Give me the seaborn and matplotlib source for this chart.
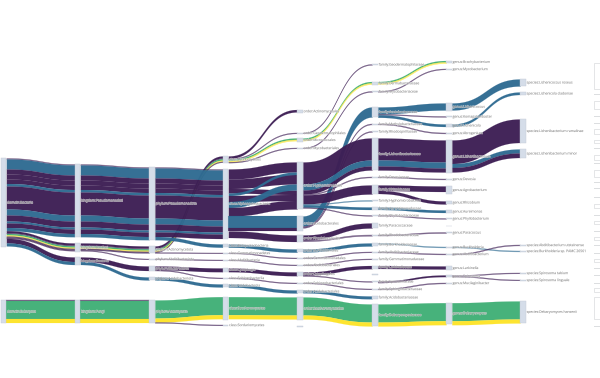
import numpy as np
import pandas as pd
import seaborn as sns
import matplotlib
matplotlib.use("Agg")
import matplotlib.pyplot as plt
import matplotlib.patheffects as pe

# nodes, per taxonomy level
node_key = ["d1", "d2",
            "k1", "k2", "k3", "k4",
            "p1", "p2", "p3", "p4", "p5", "p6",
            "c1", "c2", "c3", "c4", "c5", "c6", "c7", "c8", "c9", "c10",
            "o1", "o2", "o3", "o4", "o5", "o6", "o7", "o8", "o9", "o10", "o11", "o12", "o13", "o14", "o15",
            "f1", "f2", "f3", "f4", "f5", "f6", "f7", "f8", "f9", "f10", "f11", "f12", "f13", "f14", "f15", "f16",
            "f17", "f18", "f19", "f20", "f21", "f22", "f23",
            "g1", "g2", "g3", "g4", "g5", "g6", "g7", "g8", "g9", "g10", "g11", "g12", "g13", "g14", "g15", "g16",
            "g17", "g18", "g19", "g20",
            "s1", "s2", "s3", "s4", "s5", "s6", "s7", "s8", "s9"]
node_col = [0] * 2 + [1] * 4 + [2] * 6 + [3] * 10 + [4] * 15 + [5] * 23 + [6] * 20 + [7] * 9
node_top = [158, 300,
            164, 243, 257, 300,
            167, 246, 258.5, 266, 277, 300,
            156, 169, 244, 252.5, 259.5, 268, 277.5, 284, 296.7, 324.5,
            109.5, 132.5, 138, 147.5, 162, 216, 235, 249, 257.5, 264.5, 272, 282.5, 290, 297, 326,
            64, 81.5, 91, 107, 123.5, 131, 138, 176.5, 185, 200, 207, 215, 223, 234.5, 243, 251.5,
            258.5, 265.5, 274, 281, 288.5, 296, 304,
            60.5, 68.5, 103, 116, 124, 132.5, 140, 178.5, 186, 201, 210, 218, 225.5, 232, 246.5, 253.5,
            266, 275, 282.5, 302.7,
            79, 92, 119, 149, 244.5, 250.5, 272.5, 279.5, 301]
node_height = [89, 23,
               73, 9, 8, 23,
               73, 7, 1.2, 5, 3, 23,
               7, 69.5, 3.2, 1.2, 1.2, 3.5, 1.2, 3, 23, 1.2,
               3.5, 1.2, 4, 1.2, 47, 15, 6.5, 3, 1.2, 1.2, 4, 1.2, 2.8, 23, 0.8,
               1.2, 3.5, 1.2, 10, 1.2, 1.2, 32, 1.2, 9, 1.2, 2.8, 1.2, 5, 1.2, 3, 1.2,
               1.2, 3.2, 0.8, 1.2, 1.2, 2.8, 22,
               2.8, 1.2, 7.5, 1.2, 3, 1.2, 33, 1.2, 8, 3, 3, 1.2, 0.8, 1.2, 1.2, 1.2,
               4, 2.4, 1.2, 21,
               7, 3, 24, 9, 1.2, 1.2, 1.2, 1.2, 21.7]
node_label = ["domain:Bacteria", "domain:Eukaryota",
              "kingdom:Pseudomonadati", "kingdom:Bacillati", "kingdom:Bacteria", "kingdom:Fungi",
              "phylum:Pseudomonadota", "phylum:Actinomycetota", "phylum:Abditibacteriota", "phylum:Bacteroidota",
              "phylum:Acidobacteriota", "phylum:Ascomycota",
              "class:Actinomycetes", "class:Alphaproteobacteria", "class:Betaproteobacteria", "class:Gemmatimonadetes",
              "class:Abditibacteria", "class:Cytophagia", "class:Sphingobacteriia", "class:Acidobacteriia",
              "class:Saccharomycetes", "class:Sordariomycetes",
              "order:Actinomycetales", "order:Geodermatophilales", "order:Micrococcales", "order:Mycobacteriales",
              "order:Hyphomicrobiales", "order:Acetobacterales", "order:Rhodobacterales", "order:Burkholderiales",
              "order:Gemmatimonadales", "order:Abditibacteriales", "order:Cytophagales", "order:Sphingobacteriales",
              "order:Acidobacteriales", "order:Saccharomycetales", "",
              "family:Geodermatophilaceae", "family:Dermabacteraceae", "family:Mycobacteriaceae",
              "family:Acetobacteraceae", "family:Methylobacteriaceae", "family:Rhodospirillaceae",
              "family:Lichenibacteriaceae", "family:Devosiaceae", "family:Rhizobiaceae", "family:Hyphomicrobiaceae",
              "family:Aurantimonadaceae", "family:Phyllobacteriaceae", "family:Paracoccaceae", "family:Rhodobacteraceae",
              "family:Burkholderiaceae", "family:Abditibacteriaceae", "family:Gemmatimonadaceae",
              "family:Larkinellaceae", "", "family:Spirosomaceae", "family:Sphingobacteriaceae",
              "family:Acidobacteriaceae", "family:Debaryomycetaceae",
              "genus:Brachybacterium", "genus:Mycobacterium", "genus:Lichenicoccus", "genus:Komagataeibacter",
              "genus:Lichenicola", "genus:Abrogenium", "genus:Lichenibacterium", "genus:Devosia", "genus:Agrobacterium",
              "genus:Rhizobium", "genus:Aureimonas", "genus:Phyllobacterium", "", "genus:Paracoccus",
              "genus:Burkholderia", "genus:Abditibacterium", "genus:Larkinella", "genus:Spirosoma",
              "genus:Mucilaginibacter", "genus:Debaryomyces",
              "species:Lichenicoccus roseus", "species:Lichenicola cladoniae", "species:Lichenibacterium ramalinae",
              "species:Lichenibacterium minor", "species:Abditibacterium utsteinense",
              "species:Burkholderia sp. PAMC 26561", "species:Spirosoma tabium", "species:Spirosoma linguale",
              "species:Debaryomyces hansenii"]

# strain level, empty boxes cut off by the right edge
strain_top = [41.5, 49.5, 56.5, 63, 94, 101, 116, 123, 129, 140, 148, 155, 163, 170, 182, 188,
              190.5, 197, 204, 215, 221, 231, 237, 245, 253, 259, 268, 275, 283, 288, 297, 326]
strain_height = [0.8, 0.8, 0.8, 26, 0.8, 8, 0.8, 0.8, 5, 3, 0.8, 5, 0.8, 7, 0.8, 0.8,
                 0.8, 0.8, 4, 0.8, 3, 0.8, 3, 0.8, 0.8, 3, 0.8, 0.8, 0.8, 4, 22, 0.8]

col_left = [0.5, 74.5, 149, 222.5, 297, 372, 446, 520, 594]

# domain -> kingdom
src_0 = ["d1"] * 21 + ["d2"] * 3
dst_0 = ["k1"] * 12 + ["k2"] * 7 + ["k3"] * 2 + ["k4"] * 3
wid_0 = [1, 10, 5, 5, 4.5, 2.5, 23, 6, 6, 2, 4.5, 3.2, 2, .8, 1.4, 1.2, .8, .7, .8, 4.5, 3, .8, 18, 4]
tone_0 = list("PBPPPBPBPBPB" + "PPGYPPP" + "PB" + "PGY")

# kingdom -> phylum
src_1 = ["k1"] * 12 + ["k2"] * 7 + ["k3"] * 2 + ["k4"] * 3
dst_1 = ["p1"] * 12 + ["p2"] * 6 + ["p3"] + ["p4", "p5"] + ["p6"] * 3
wid_1 = list(wid_0)
tone_1 = list(tone_0)

# phylum -> class, the Actinomycetota bundle goes behind the trunk
src_2 = ["p2"] * 6 + ["p1"] * 12 + ["p3", "p4", "p4", "p5", "p6", "p6", "p6"]
dst_2 = ["c1"] * 5 + ["c4"] + ["c2"] * 11 + ["c3"] + ["c5", "c6", "c7", "c8", "c9", "c9", "c10"]
wid_2 = [2, .8, 1.4, 1.2, .8, .7, 1, 10, 5, 5, 4.5, 2.5, 23, 6, 6, 2, 4.5, 3.2, .8, 3.7, .8, 3, 18, 4, .8]
tone_2 = list("PPGYPP" + "PBPPPBPBPBPB" + "PPPB" + "GYP")

# class -> order
src_3 = ["c1"] * 5 + ["c2"] * 10 + ["c3", "c4", "c5", "c6", "c7", "c8", "c9", "c9"]
dst_3 = ["o1", "o2", "o3", "o3", "o4"] + ["o5"] * 7 + ["o6"] * 2 + ["o7"] + ["o8", "o9", "o10", "o11", "o12", "o13", "o14", "o14"]
wid_3 = [2.4, .8, 1.4, 1.2, .8, 10, 9.5, 4.5, 2.5, 6, 6, 8.5, 12, 3, 6.5, 3.2, .8, .8, 3.7, .8, 3, 18, 4]
tone_3 = list("PPGYP" + "PPPBPBP" + "BP" + "P" + "BPPPPB" + "GY")
# stack order of the seven stripes where they enter order:Hyphomicrobiales
hyph_rank = [0, 2, 4, 1, 5, 3, 6]

# order -> family, Acetobacterales drawn first so that the trunk covers it
src_4 = ["o6"] * 3 + ["o2", "o3", "o3", "o4"] + ["o5"] * 8 + ["o7", "o7", "o8", "o9", "o10", "o11", "o11", "o12", "o13", "o14", "o14"]
dst_4 = ["f4", "f5", "f6", "f1", "f2", "f2", "f3", "f7", "f7", "f7", "f8", "f9", "f10", "f11", "f12",
         "f13", "f14", "f15", "f16", "f17", "f18", "f20", "f21", "f22", "f23", "f23"]
wid_4 = [10, .9, .9, .8, 1.4, 1.2, .8, 22, 6, 4, .9, 9, .8, 2.5, .8, 5, 1.2, 3, .8, .8, 3.2, .8, .8, 2.8, 18, 4]
tone_4 = list("BPP" + "PGYP" + "PBPPPBBP" + "PPBPPPPPB" + "GY")

# family -> genus
src_5 = ["f2", "f2", "f3", "f4", "f4", "f4", "f5", "f7", "f7", "f7", "f8", "f9", "f9", "f11", "f12", "f14",
         "f15", "f16", "f18", "f20", "f21", "f23", "f23"]
dst_5 = ["g1", "g1", "g2", "g3", "g4", "g5", "g6", "g7", "g7", "g7", "g8", "g9", "g10", "g11", "g12", "g14",
         "g15", "g16", "g17", "g18", "g19", "g20", "g20"]
wid_5 = [1.4, 1.2, .8, 7, .8, 2.5, .9, 22, 6, 4, .9, 5.5, 3, 2.5, .8, 1, .9, .9, 3, 1.6, .9, 18, 4]
tone_5 = list("GYPBPBPPBPPPPBPPBPPPPGY")

# genus -> species
src_6 = ["g3", "g5", "g7", "g7", "g7", "g15", "g16", "g18", "g18", "g20", "g20"]
dst_6 = ["s1", "s2", "s3", "s4", "s4", "s6", "s5", "s7", "s8", "s9", "s9"]
wid_6 = [7, 2.5, 23.5, 4, 4.5, .9, .9, .8, .8, 18, 4]
tone_6 = list("BBPBPBPPPGY")

sns.set_theme(style="white")
plt.rcParams["font.family"] = ["Open Sans", "DejaVu Sans"]

tones = dict(zip("PBGY", sns.color_palette(["#3e1f55", "#2f6b92", "#41b077", "#fde429"])))
node_width = 5.8

nodes = pd.DataFrame({"key": node_key, "col": node_col, "top": node_top,
                      "height": node_height, "label": node_label}).set_index("key")
nodes["x"] = [col_left[c] for c in nodes["col"]]

links = pd.concat([
    pd.DataFrame({"src": s, "dst": d, "width": w, "tone": t})
    for s, d, w, t in [(src_0, dst_0, wid_0, tone_0), (src_1, dst_1, wid_1, tone_1),
                       (src_2, dst_2, wid_2, tone_2), (src_3, dst_3, wid_3, tone_3),
                       (src_4, dst_4, wid_4, tone_4), (src_5, dst_5, wid_5, tone_5),
                       (src_6, dst_6, wid_6, tone_6)]
], ignore_index=True)
links["rank"] = links.index.astype(float)
hyph = links.index[links["dst"] == "o5"]
links.loc[hyph, "rank"] = hyph[0] + np.array(hyph_rank, dtype=float)

# stack the links inside each node
links["y0"] = links["width"].groupby(links["src"]).cumsum() - links["width"] + nodes["top"].reindex(links["src"]).values
by_rank = links.sort_values("rank")
offset = by_rank["width"].groupby(by_rank["dst"]).cumsum() - by_rank["width"]
links["y1"] = offset.reindex(links.index) + nodes["top"].reindex(links["dst"]).values

fig = plt.figure(figsize=(6, 3.78), dpi=100)
ax = fig.add_axes([0, 0, 1, 1])
ax.set_xlim(0, 600)
ax.set_ylim(378, 0)
ax.set_axis_off()
sns.despine(ax=ax, left=True, bottom=True)

t = np.linspace(0, 1, 80)
ease = 3 * t ** 2 - 2 * t ** 3
for _, row in links.iterrows():
    x0 = nodes.loc[row["src"], "x"] + node_width
    x1 = nodes.loc[row["dst"], "x"]
    xm = (x0 + x1) / 2
    xs = x0 * (1 - t) ** 3 + 3 * xm * (1 - t) ** 2 * t + 3 * xm * (1 - t) * t ** 2 + x1 * t ** 3
    ys = row["y0"] + (row["y1"] - row["y0"]) * ease
    thin = row["width"] < 1.3
    ax.fill_between(xs, ys, ys + row["width"], color=tones[row["tone"]],
                    alpha=0.6 if thin else 0.97, lw=0.1 if not thin else 0.3, zorder=2)

# strain boxes
for top, h in zip(strain_top, strain_height):
    if h < 1:
        ax.bar(col_left[8], h, width=node_width + 1, bottom=top, align="edge", color="#dcdee0", lw=0, zorder=3)
    else:
        ax.bar(col_left[8], h, width=node_width + 1, bottom=top, align="edge", color="white",
               edgecolor="#dfe1e3", lw=0.6, zorder=3)

for _, row in nodes.iterrows():
    ax.bar(row["x"], row["height"], width=node_width, bottom=row["top"], align="edge",
           color="#d5dde9", edgecolor="#c3cad4", lw=0.3, zorder=3)
    ax.text(row["x"] + node_width + 0.8, row["top"] + row["height"] / 2, row["label"],
            fontsize=2.45, color="#7a7a7a", va="center", ha="left", zorder=4,
            path_effects=[pe.withStroke(linewidth=0.45, foreground="white", alpha=0.55)])

fig.savefig("out.png", dpi=100, facecolor="white")
